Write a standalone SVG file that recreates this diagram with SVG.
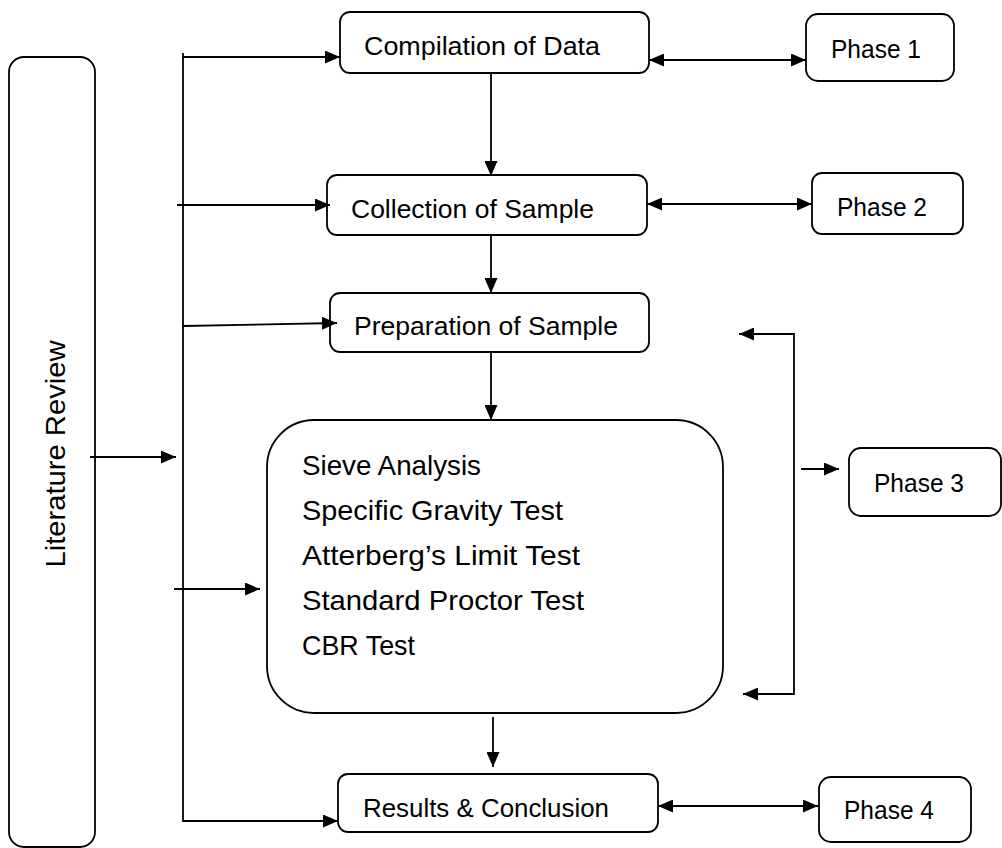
<svg xmlns="http://www.w3.org/2000/svg" width="1002" height="848" viewBox="0 0 1002 848">
<style>
.box{fill:#fff;stroke:#000;stroke-width:1.8}
.t{font-family:"Liberation Sans",Arial,sans-serif;font-size:26px;fill:#000}
.tb{font-family:"Liberation Sans",Arial,sans-serif;font-size:28.5px;fill:#000}
.c{fill:none;stroke:#000;stroke-width:1.8}
</style>
<defs>
<marker id="ah" viewBox="0 0 15 13" refX="15" refY="6.5" markerWidth="15" markerHeight="13" markerUnits="userSpaceOnUse" orient="auto-start-reverse">
<path d="M0,0 L15,6.5 L0,13 z" fill="#000"/>
</marker>
</defs>
<rect width="1002" height="848" fill="#fff"/>
<g id="literature-review">
<rect class="box" x="9" y="57" width="86" height="790" rx="15"/>
<text class="tb" transform="translate(65,454) rotate(-90)" text-anchor="middle" textLength="227" lengthAdjust="spacingAndGlyphs">Literature Review</text>
</g>
<g id="compilation">
<rect class="box" x="340" y="12" width="309" height="61" rx="10"/>
<text class="t" x="364" y="55" textLength="236" lengthAdjust="spacingAndGlyphs">Compilation of Data</text>
</g>
<g id="phase1">
<rect class="box" x="806" y="14" width="148" height="67" rx="12"/>
<text class="t" x="831" y="58" textLength="90" lengthAdjust="spacingAndGlyphs">Phase 1</text>
</g>
<g id="collection">
<rect class="box" x="327" y="175" width="320" height="60" rx="10"/>
<text class="t" x="351" y="218" textLength="243" lengthAdjust="spacingAndGlyphs">Collection of Sample</text>
</g>
<g id="phase2">
<rect class="box" x="812" y="173" width="151" height="61" rx="10"/>
<text class="t" x="837" y="216" textLength="90" lengthAdjust="spacingAndGlyphs">Phase 2</text>
</g>
<g id="preparation">
<rect class="box" x="330" y="293" width="319" height="59" rx="10"/>
<text class="t" x="354" y="335" textLength="264" lengthAdjust="spacingAndGlyphs">Preparation of Sample</text>
</g>
<g id="tests">
<rect class="box" x="267" y="420" width="456" height="293" rx="47"/>
<text class="tb" x="302" y="475" textLength="179" lengthAdjust="spacingAndGlyphs">Sieve Analysis</text>
<text class="tb" x="302" y="520" textLength="261" lengthAdjust="spacingAndGlyphs">Specific Gravity Test</text>
<text class="tb" x="302" y="565" textLength="278" lengthAdjust="spacingAndGlyphs">Atterberg’s Limit Test</text>
<text class="tb" x="302" y="610" textLength="282" lengthAdjust="spacingAndGlyphs">Standard Proctor Test</text>
<text class="tb" x="302" y="655" textLength="113" lengthAdjust="spacingAndGlyphs">CBR Test</text>
</g>
<g id="phase3">
<rect class="box" x="849" y="448" width="152" height="68" rx="12"/>
<text class="t" x="874" y="492" textLength="90" lengthAdjust="spacingAndGlyphs">Phase 3</text>
</g>
<g id="results">
<rect class="box" x="338" y="774" width="320" height="58" rx="10"/>
<text class="t" x="363" y="817" textLength="246" lengthAdjust="spacingAndGlyphs">Results &amp; Conclusion</text>
</g>
<g id="phase4">
<rect class="box" x="819" y="777" width="152" height="65" rx="12"/>
<text class="t" x="844" y="819" textLength="90" lengthAdjust="spacingAndGlyphs">Phase 4</text>
</g>
<g id="connectors">
<path class="c" d="M183,53 V821 H338" marker-end="url(#ah)"/>
<path class="c" d="M183,57 H340" marker-end="url(#ah)"/>
<path class="c" d="M177,205 H330" marker-end="url(#ah)"/>
<path class="c" d="M183,326 L337,323" marker-end="url(#ah)"/>
<path class="c" d="M90,457 H176" marker-end="url(#ah)"/>
<path class="c" d="M174,589 H260" marker-end="url(#ah)"/>
<path class="c" d="M649,60 H806" marker-start="url(#ah)" marker-end="url(#ah)"/>
<path class="c" d="M647,204 H812" marker-start="url(#ah)" marker-end="url(#ah)"/>
<path class="c" d="M658,806 H818" marker-start="url(#ah)" marker-end="url(#ah)"/>
<path class="c" d="M491,73 V176" marker-end="url(#ah)"/>
<path class="c" d="M491,235 V293" marker-end="url(#ah)"/>
<path class="c" d="M491,352 V420" marker-end="url(#ah)"/>
<path class="c" d="M493,717 V767" marker-end="url(#ah)"/>
<path class="c" d="M739,334 H794 V694 H743" marker-start="url(#ah)" marker-end="url(#ah)"/>
<path class="c" d="M801,469 H839" marker-end="url(#ah)"/>
</g>
</svg>
